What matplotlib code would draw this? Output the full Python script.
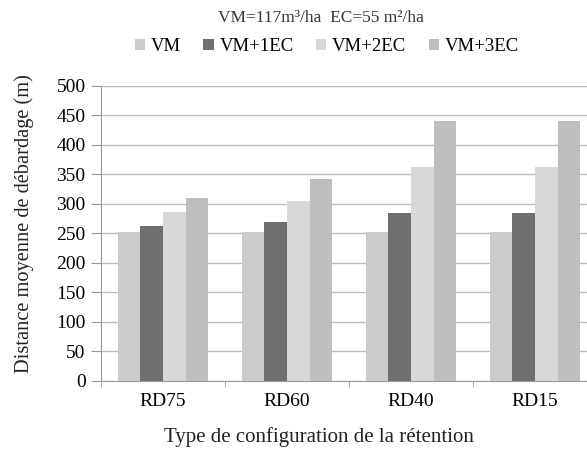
import numpy as np
import matplotlib.pyplot as plt

# data
categories = ['RD75', 'RD60', 'RD40', 'RD15']
series = ['VM', 'VM+1EC', 'VM+2EC', 'VM+3EC']
vm = [252, 252, 252, 252]
vm_1ec = [263, 269, 285, 285]
vm_2ec = [287, 305, 363, 363]
vm_3ec = [310, 343, 441, 441]
colors = ['#cbcbcb', '#6f6f6f', '#d8d8d8', '#bebebe']

plt.rcParams['font.family'] = ['Liberation Serif', 'DejaVu Serif']

fig = plt.figure(figsize=(5.87, 4.55), dpi=100)
ax = fig.add_axes([0.172, 0.163, 0.845, 0.648])

x = np.arange(len(categories))
w = 0.183
for i, (vals, name) in enumerate(zip([vm, vm_1ec, vm_2ec, vm_3ec], series)):
    ax.bar(x + (i - 1.5) * w, vals, width=w, color=colors[i], label=name, zorder=2)

ax.set_xlim(-0.5, 3.5)
ax.set_ylim(0, 500)
ax.set_yticks(np.arange(0, 501, 50))
ax.yaxis.grid(True, color='#bdbdbd', linewidth=1.0, zorder=0)
ax.set_axisbelow(True)

ax.set_xticks(x)
ax.set_xticklabels(categories, fontsize=14)
ax.tick_params(axis='x', length=0, pad=9)
ax.set_xticks(np.arange(-0.5, 3.6, 1), minor=True)
ax.tick_params(axis='x', which='minor', length=4, color='#999999')
ax.tick_params(axis='y', labelsize=14, length=7, color='#999999', pad=4)

for s in ['top', 'right']:
    ax.spines[s].set_visible(False)
ax.spines['left'].set_color('#999999')
ax.spines['bottom'].set_color('#999999')

ax.set_xlabel('Type de configuration de la rétention', fontsize=15, color='#222222')
ax.set_ylabel('Distance moyenne de débardage (m)', fontsize=14.7, color='#222222')
# label centres placed as in the reference
ax.yaxis.set_label_coords(-0.136, 0.535)
ax.xaxis.set_label_coords(0.44, -0.158)

fig.text(0.547, 0.96, 'VM=117m³/ha  EC=55 m²/ha', ha='center', va='center',
         fontsize=12.5, color='#333333')
fig.legend(loc='center', bbox_to_anchor=(0.557, 0.897), ncol=4, frameon=False,
           fontsize=13.5, handlelength=0.55, handleheight=0.55, handletextpad=0.3,
           columnspacing=1.2)

fig.savefig('out.png', dpi=100)
